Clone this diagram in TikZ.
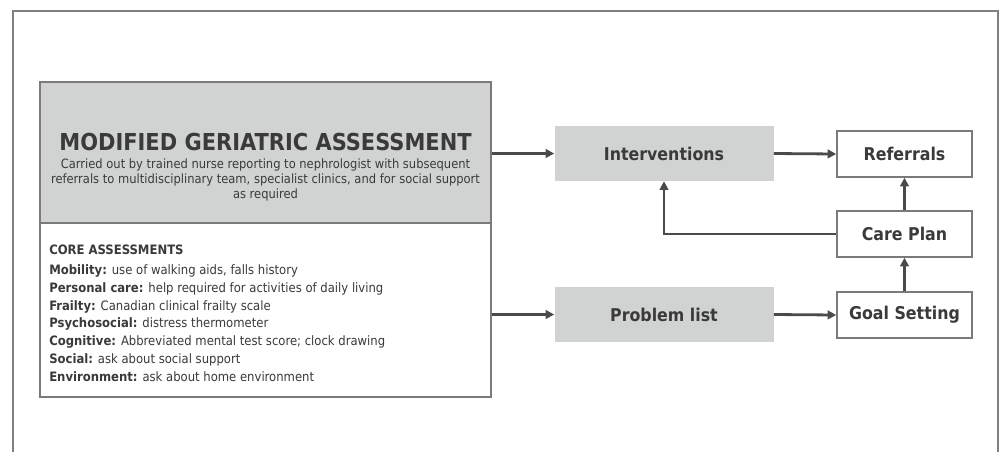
\documentclass[tikz,border=0pt]{standalone}
\usepackage{fontspec}
\setmainfont{DejaVu Sans Condensed}[BoldFont={DejaVu Sans Condensed Bold}]
\usetikzlibrary{arrows.meta}

\definecolor{framegray}{HTML}{808080}
\definecolor{boxgray}{HTML}{D1D3D3}
\definecolor{edgegray}{HTML}{7A7A7A}
\definecolor{inkgray}{HTML}{3A3A3A}
\definecolor{arrowgray}{HTML}{4A4A4A}
\def\px{0.75pt}

\tikzset{
  graybox/.style={fill=boxgray, draw=none, inner sep=0pt, text=inkgray,
    minimum width=219*\px, minimum height=55*\px, font=\fontsize{13.2}{15}\selectfont\bfseries},
  stepbox/.style={draw=edgegray, line width=1.1pt, fill=white, inner sep=0pt, text=inkgray,
    minimum width=135*\px, minimum height=46*\px, font=\fontsize{13.2}{15}\selectfont\bfseries},
  flow/.style={draw=arrowgray, line width=2.1pt, -{Triangle[length=6.5pt, width=6.5pt]}}
}

\begin{document}
\begin{tikzpicture}[x=\px, y=-\px]
\useasboundingbox (0,0) rectangle (1008,451);

% outer frame
\draw[framegray, line width=1.1pt] (13,470) -- (13,11) -- (998,11) -- (998,470);

% assessment box
\node[fill=boxgray, draw=edgegray, line width=1.1pt, minimum width=451*\px, minimum height=141*\px, inner sep=0pt]
  (mga) at (265.5,152.5) {};
\node[fill=white, draw=edgegray, line width=1.1pt, minimum width=451*\px, minimum height=174*\px, inner sep=0pt]
  (core) at (265.5,310) {};
\node[text=inkgray, align=center, font=\fontsize{9.6}{11.3}\selectfont] (mgatext) at (265.5,167)
  {{\fontsize{17.5}{20}\selectfont\bfseries MODIFIED GERIATRIC ASSESSMENT}\\[2pt]
   Carried out by trained nurse reporting to nephrologist with subsequent\\
   referrals to multidisciplinary team, specialist clinics, and for social support\\
   as required};
\node[text=inkgray, align=left, anchor=north west, inner sep=0pt, font=\fontsize{9.7}{13.3}\selectfont]
  (coretext) at (49,245)
  {\textbf{CORE ASSESSMENTS}\\[1.5pt]
   \textbf{Mobility:} use of walking aids, falls history\\
   \textbf{Personal care:} help required for activities of daily living\\
   \textbf{Frailty:} Canadian clinical frailty scale\\
   \textbf{Psychosocial:} distress thermometer\\
   \textbf{Cognitive:} Abbreviated mental test score; clock drawing\\
   \textbf{Social:} ask about social support\\
   \textbf{Environment:} ask about home environment};

% flow boxes
\node[graybox] (intv) at (664,153.5) {Interventions};
\node[graybox] (prob) at (664,314.5) {Problem list};
\node[stepbox] (refer) at (904.5,154) {Referrals};
\node[stepbox] (care) at (904.5,234) {Care Plan};
\node[stepbox] (goal) at (904.5,315) {Goal Setting};

% connectors
\draw[flow] (intv.west -| mga.east) -- (intv.west);
\draw[flow] (prob.west -| core.east) -- (prob.west);
\draw[flow] (intv.east) -- (refer.west);
\draw[flow] (prob.east) -- (goal.west);
\draw[flow] (goal.north) -- (care.south);
\draw[flow] (care.north) -- (refer.south);
\draw[flow] (care.west) -| (intv.south);

\end{tikzpicture}
\end{document}
